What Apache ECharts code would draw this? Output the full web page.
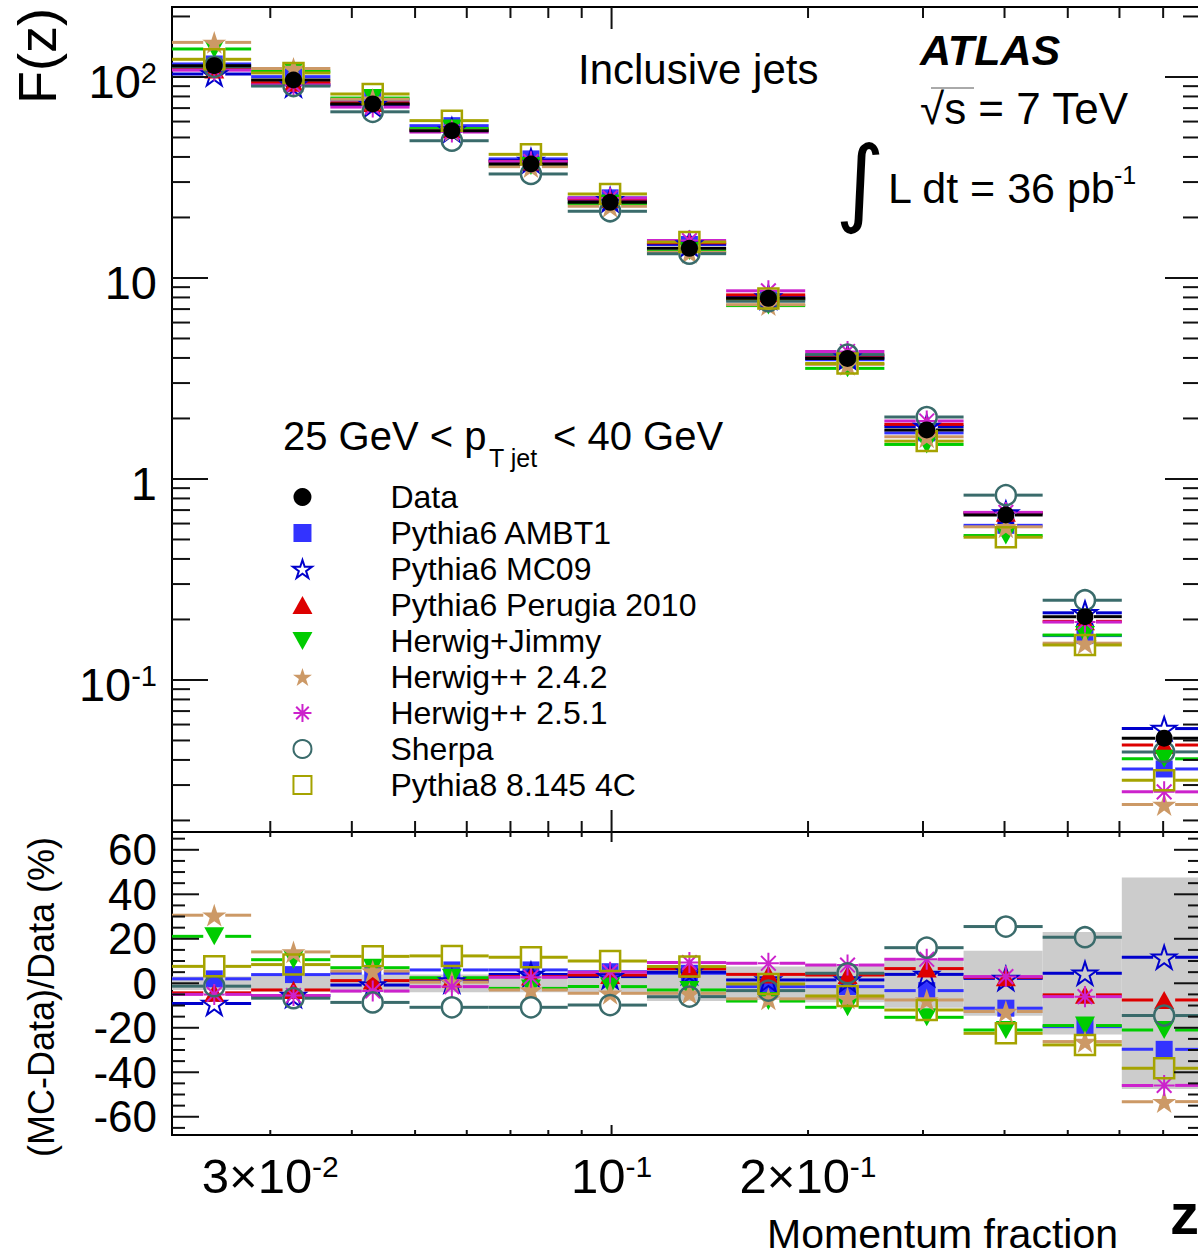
<!DOCTYPE html>
<html>
<head>
<meta charset="utf-8">
<script src="https://cdn.jsdelivr.net/npm/echarts@6/dist/echarts.min.js"></script>
<style>html,body{margin:0;padding:0;background:#fff}#c{width:1198px;height:1257px}</style>
</head>
<body>
<div id="c"></div>
<script>
// ---------------- data ----------------
const binLo   = [0.02121,0.02804,0.03708,0.04903,0.06482,0.08568,0.1133,0.1498,0.1980,0.2618,0.3462,0.4576,0.6050];
const binHi   = [0.02804,0.03708,0.04903,0.06482,0.08568,0.1133,0.1498,0.1980,0.2618,0.3462,0.4576,0.6050,0.8000];
const zCenter = [0.02462,0.03256,0.04306,0.05693,0.07525,0.09949,0.1316,0.1739,0.2299,0.3040,0.4019,0.5313,0.7025];
const dataF      = [113.8,96.6,73.4,54.0,36.9,23.8,14.05,7.92,3.98,1.753,0.662,0.2065,0.0513];
const dataErrPct = [3,3.7,4,4,4,4,8,7.5,8.5,11,14.6,23,47.5];
// (MC-Data)/Data in %
const ratioAMBT1   = [2.0,3.9,4.5,6.0,6.0,5.2,4.5,-1.5,-1.5,-3.3,-11.2,-19.5,-29.7];
const ratioMC09    = [-9.1,-5.5,-0.8,1.0,4.0,3.0,5.0,1.5,1.5,4.0,2.2,4.5,11.7];
const ratioPerugia = [-4.3,-3.0,1.2,2.0,3.0,3.7,6.5,4.0,3.7,6.6,2.7,-5.2,-7.5];
const ratioJimmy   = [21.1,10.6,7.0,2.5,-2.3,-1.5,-3.0,-8.0,-10.8,-15.3,-21.0,-19.0,-21.0];
const ratioHpp242  = [30.6,14.1,5.5,0.5,-3.0,-4.5,-4.5,-7.0,-6.7,-7.5,-12.7,-26.2,-53.2];
const ratioHpp251  = [-5.0,-5.5,-3.5,-1.5,2.7,5.0,9.3,9.0,8.2,10.8,3.0,-6.0,-45.9];
const ratioSherpa  = [-1.3,-6.7,-8.6,-10.8,-10.8,-9.8,-6.0,-3.3,4.5,16.0,25.5,20.7,-14.5];
const ratioPythia8 = [7.6,8.4,12.1,12.3,11.7,10.0,7.5,-0.3,-5.7,-12.0,-22.5,-27.7,-38.2];
// tick labels / tick positions
const xTickLabels      = [0.03,0.1,0.2];
const yTopTickLabels   = [0.1,1,10,100];
const yRatioTickLabels = [-60,-40,-20,0,20,40,60];
const xMinorTicks = [0.03,0.04,0.05,0.06,0.07,0.08,0.09,0.2,0.3,0.4,0.5,0.6,0.7];
const xMajorTicks = [0.1];
const yTopMinorTicks = [0.02,0.03,0.04,0.05,0.06,0.07,0.08,0.09,0.2,0.3,0.4,0.5,0.6,0.7,0.8,0.9,2,3,4,5,6,7,8,9,20,30,40,50,60,70,80,90,200];
const yTopMajorTicks = [0.1,1,10,100];
const yRatioMinorTicks = [-65,-55,-50,-45,-35,-30,-25,-15,-10,-5,5,10,15,25,30,35,45,50,55,65];
const yRatioMajorTicks = [-60,-40,-20,0,20,40,60];

// ---------------- styles ----------------
const FONT = "'Liberation Sans', Arial, Helvetica, sans-serif";
const STAR  = 'path://M50 0 L61.2 34.5 L97.6 34.5 L68.2 55.9 L79.4 90.5 L50 69.1 L20.6 90.5 L31.8 55.9 L2.4 34.5 L38.8 34.5 Z';
const ASTER = 'path://M50 0 L50 100 M0 50 L100 50 M15 15 L85 85 M85 15 L15 85';
const RECT  = 'path://M0 0 L100 0 L100 100 L0 100 Z';
const TRIUP = 'path://M50 0 L100 90 L0 90 Z';
const TRIDN = 'path://M0 0 L100 0 L50 90 Z';
const NONE = 'rgba(0,0,0,0)';
const mcDefs = [
  {name:'Pythia6 AMBT1',        ratio:ratioAMBT1,   color:'#3333ff', symbol:RECT,  size:17, fill:'#3333ff', bw:0},
  {name:'Pythia6 MC09',         ratio:ratioMC09,    color:'#0000cc', symbol:STAR,  size:24, fill:NONE,      bw:2},
  {name:'Pythia6 Perugia 2010', ratio:ratioPerugia, color:'#dd0000', symbol:TRIUP, size:20, fill:'#dd0000', bw:0},
  {name:'Herwig+Jimmy',         ratio:ratioJimmy,   color:'#00cc00', symbol:TRIDN, size:20, fill:'#00cc00', bw:0},
  {name:'Herwig++ 2.4.2',       ratio:ratioHpp242,  color:'#cc9966', symbol:STAR,  size:24, fill:'#cc9966', bw:0},
  {name:'Herwig++ 2.5.1',       ratio:ratioHpp251,  color:'#cc22cc', symbol:ASTER, size:21, fill:NONE,      bw:2},
  {name:'Sherpa',               ratio:ratioSherpa,  color:'#3a6b6b', symbol:'circle', size:20, fill:NONE,   bw:2.5},
  {name:'Pythia8 8.145 4C',     ratio:ratioPythia8, color:'#a5a300', symbol:RECT,  size:20, fill:NONE,      bw:2.5}
];

const chart = echarts.init(document.getElementById('c'), null, {renderer:'svg', width:1198, height:1257});

function binLines(name, color, vals, gi, gap, z) {
  return {
    type:'custom', name:name + ' bins', xAxisIndex:gi, yAxisIndex:gi, z:z, silent:true,
    data: vals.map((v,i) => [binLo[i], binHi[i], zCenter[i], v]),
    encode:{x:[0,1,2], y:3},
    renderItem:(p, api) => {
      const y = api.value(3);
      const l = api.coord([api.value(0), y]), r = api.coord([api.value(1), y]), c = api.coord([api.value(2), y]);
      const st = {stroke:color, lineWidth:3};
      return {type:'group', children:[
        {type:'line', shape:{x1:l[0], y1:l[1], x2:c[0]-gap, y2:c[1]}, style:st},
        {type:'line', shape:{x1:c[0]+gap, y1:c[1], x2:r[0], y2:r[1]}, style:st}
      ]};
    }
  };
}
function markers(d, vals, gi, z) {
  return {
    type:'scatter', name:d.name, xAxisIndex:gi, yAxisIndex:gi, z:z, silent:true,
    symbol:d.symbol, symbolSize:d.size, symbolKeepAspect:true,
    itemStyle:{color:d.fill, borderColor:d.color, borderWidth:d.bw, opacity:1},
    emphasis:{disabled:true},
    data: vals.map((v,i) => [zCenter[i], v])
  };
}
function tickSeries(gi, xt, yt, refX, refY, len) {
  const rows = [];
  xt[0].forEach(v => rows.push([0, v, 0, v, refY]));
  xt[1].forEach(v => rows.push([0, v, 1, v, refY]));
  yt[0].forEach(v => rows.push([1, v, 0, refX, v]));
  yt[1].forEach(v => rows.push([1, v, 1, refX, v]));
  return {
    type:'custom', name:'ticks' + gi, xAxisIndex:gi, yAxisIndex:gi, z:60, silent:true,
    data:rows, encode:{x:3, y:4},
    renderItem:(p, api) => {
      const cs = p.coordSys;
      const kind = api.value(0), v = api.value(1), mj = api.value(2);
      const st = {stroke:'#111', lineWidth:2};
      if (kind === 0) {
        const px = api.coord([v, refY])[0];
        const L = mj ? len.xMajor : len.xMinor;
        return {type:'group', children:[
          {type:'line', shape:{x1:px, y1:cs.y, x2:px, y2:cs.y+L}, style:st},
          {type:'line', shape:{x1:px, y1:cs.y+cs.height, x2:px, y2:cs.y+cs.height-L}, style:st}
        ]};
      }
      const py = api.coord([refX, v])[1];
      const L = mj ? len.yMajor : len.yMinor;
      return {type:'group', children:[
        {type:'line', shape:{x1:cs.x, y1:py, x2:cs.x+L, y2:py}, style:st},
        {type:'line', shape:{x1:cs.x+cs.width, y1:py, x2:cs.x+cs.width-L, y2:py}, style:st}
      ]};
    }
  };
}

const series = [];
// ratio band
series.push({
  type:'custom', name:'Data uncertainty', xAxisIndex:1, yAxisIndex:1, z:1, silent:true,
  data: binLo.map((lo,i) => [lo, binHi[i], dataErrPct[i]]),
  encode:{x:[0,1], y:2},
  renderItem:(p, api) => {
    const a = api.coord([api.value(0), api.value(2)]);
    const b = api.coord([api.value(1), -api.value(2)]);
    return {type:'rect', shape:{x:a[0], y:a[1], width:b[0]-a[0], height:b[1]-a[1]}, style:{fill:'#cccccc'}};
  }
});
series.push(markers({name:'Data', symbol:'circle', size:17, fill:'#000', color:'#000', bw:0}, dataF, 0, 30));
mcDefs.forEach(d => {
  const top = dataF.map((v,i) => v * (1 + d.ratio[i] / 100));
  series.push(markers(d, top, 0, 20));
  series.push(markers(d, d.ratio, 1, 20));
  series.push(binLines(d.name, d.color, top, 0, 11, 10));
  series.push(binLines(d.name, d.color, d.ratio, 1, 11, 10));
});
series.push(binLines('Data', '#000', dataF, 0, 9, 12));
series.push(tickSeries(0, [xMinorTicks, xMajorTicks], [yTopMinorTicks, yTopMajorTicks], 0.1, 1,
  {xMinor:11, xMajor:22, yMinor:18, yMajor:36}));
series.push(tickSeries(1, [xMinorTicks, xMajorTicks], [yRatioMinorTicks, yRatioMajorTicks], 0.1, 0,
  {xMinor:5, xMajor:10, yMinor:13, yMajor:27}));

const supRich = (big, small) => ({
  a:{fontSize:big, fontFamily:FONT, color:'#000'},
  s:{fontSize:small, fontFamily:FONT, color:'#000', verticalAlign:'top'}
});
function fmtPow(v) {
  const m = {0.03:'{a|3×10}{s|-2}', 0.1:'{a|10}{s|-1}', 0.2:'{a|2×10}{s|-1}', 1:'{a|1}', 10:'{a|10}', 100:'{a|10}{s|2}'};
  for (const k in m) { if (Math.abs(v - Number(k)) < 1e-9 * Math.max(1, Number(k))) return m[k]; }
  return '';
}

const hidden = {axisLine:{show:false}, axisTick:{show:false}, splitLine:{show:false}, minorTick:{show:false}, minorSplitLine:{show:false}};
const option = {
  animation:false,
  backgroundColor:'#fff',
  grid:[
    {left:172, top:7, width:1029, height:825, show:true, borderColor:'#000', borderWidth:2, backgroundColor:NONE, outerBoundsMode:'none', containLabel:false},
    {left:172, top:832, width:1029, height:303, show:true, borderColor:'#000', borderWidth:2, backgroundColor:NONE, outerBoundsMode:'none', containLabel:false}
  ],
  xAxis:[
    Object.assign({gridIndex:0, type:'log', logBase:10, min:0.02121, max:0.8, axisLabel:{show:false}}, hidden),
    Object.assign({gridIndex:1, type:'log', logBase:10, min:0.02121, max:0.8,
      axisLabel:{show:true, customValues:xTickLabels, margin:16, formatter:fmtPow, rich:supRich(49,30), hideOverlap:false}}, hidden)
  ],
  yAxis:[
    Object.assign({gridIndex:0, type:'log', logBase:10, min:0.01752, max:222.9,
      axisLabel:{show:true, customValues:yTopTickLabels, margin:15, formatter:fmtPow, rich:supRich(47,29), padding:[10,0,0,0], hideOverlap:false}}, hidden),
    Object.assign({gridIndex:1, type:'value', min:-68.2, max:68,
      axisLabel:{show:true, customValues:yRatioTickLabels, margin:15, fontSize:44, fontFamily:FONT, color:'#000', padding:[5,0,0,0], hideOverlap:false,
        formatter:v => String(v)}}, hidden)
  ],
  legend:{
    orient:'vertical', left:292, top:481, padding:0, itemGap:4, itemWidth:166, itemHeight:18,
    selectedMode:false,
    textStyle:{fontSize:32, fontFamily:FONT, color:'#000'},
    data:['Data'].concat(mcDefs.map(d => d.name))
  },
  graphic:[
    {type:'text', style:{text:'Inclusive jets', x:578, y:69, fill:'#000', fontSize:42, fontFamily:FONT, align:'left', verticalAlign:'middle', textAlign:'left', textVerticalAlign:'middle'}},
    {type:'text', style:{text:'ATLAS', x:920, y:50, fill:'#000', fontSize:43, fontFamily:FONT, fontWeight:'bold', fontStyle:'italic', align:'left', verticalAlign:'middle', textAlign:'left', textVerticalAlign:'middle'}},
    {type:'text', style:{text:'√s = 7 TeV', x:920, y:108, fill:'#000', fontSize:44, fontFamily:FONT, align:'left', verticalAlign:'middle', textAlign:'left', textVerticalAlign:'middle'}},
    {type:'text', style:{text:'∫', x:860, y:181, fill:'#000', fontSize:95, fontFamily:"'DejaVu Sans', sans-serif", align:'center', verticalAlign:'middle', textAlign:'center', textVerticalAlign:'middle'}},
    {type:'text', style:{text:'L dt = 36 pb', x:888, y:188, fill:'#000', fontSize:43, fontFamily:FONT, align:'left', verticalAlign:'middle', textAlign:'left', textVerticalAlign:'middle'}},
    {type:'text', style:{text:'-1', x:1114, y:175, fill:'#000', fontSize:25, fontFamily:FONT, align:'left', verticalAlign:'middle', textAlign:'left', textVerticalAlign:'middle'}},
    {type:'text', style:{text:'25 GeV < p', x:283, y:436, fill:'#000', fontSize:40, fontFamily:FONT, align:'left', verticalAlign:'middle', textAlign:'left', textVerticalAlign:'middle'}},
    {type:'text', style:{text:'T jet', x:489, y:458, fill:'#000', fontSize:25, fontFamily:FONT, align:'left', verticalAlign:'middle', textAlign:'left', textVerticalAlign:'middle'}},
    {type:'text', style:{text:'< 40 GeV', x:553, y:436, fill:'#000', fontSize:40, fontFamily:FONT, align:'left', verticalAlign:'middle', textAlign:'left', textVerticalAlign:'middle'}},
    {type:'text', style:{text:'Momentum fraction', x:1118, y:1234, fill:'#000', fontSize:41, fontFamily:FONT, align:'right', verticalAlign:'middle', textAlign:'right', textVerticalAlign:'middle'}},
    {type:'text', style:{text:'z', x:1170, y:1213, fill:'#000', fontSize:58, fontFamily:FONT, fontWeight:'bold', align:'left', verticalAlign:'middle', textAlign:'left', textVerticalAlign:'middle'}},
    {type:'text', x:37, y:56, rotation:Math.PI/2, style:{text:'F(z)', x:0, y:0, fill:'#000', fontSize:54, fontFamily:FONT, align:'center', verticalAlign:'middle', textAlign:'center', textVerticalAlign:'middle'}},
    {type:'text', x:41, y:997, rotation:Math.PI/2, style:{text:'(MC-Data)/Data (%)', x:0, y:0, fill:'#000', fontSize:36, fontFamily:FONT, align:'center', verticalAlign:'middle', textAlign:'center', textVerticalAlign:'middle'}},
    {type:'line', shape:{x1:931, y1:88, x2:974, y2:88}, style:{stroke:'#555', lineWidth:1}}
  ],
  series:series
};
chart.setOption(option);
</script>
</body>
</html>
